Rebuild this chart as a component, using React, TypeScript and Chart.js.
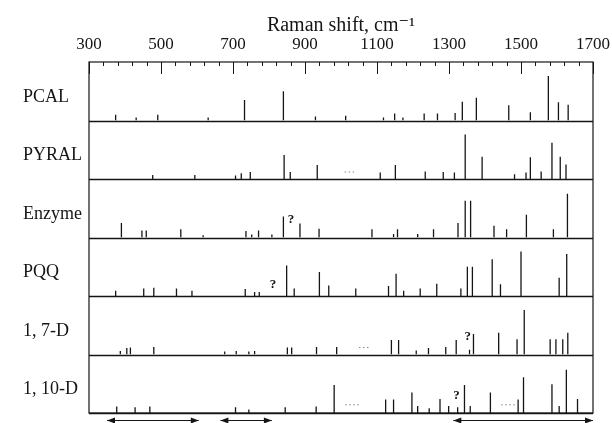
import React, { useEffect, useRef } from "react";
import { Chart, registerables } from "chart.js";

Chart.register(...registerables);

const SERIF = "'Liberation Serif', 'DejaVu Serif', serif";
const INK = "#151515";

// Panel names, top to bottom
const PANELS = ["PCAL", "PYRAL", "Enzyme", "PQQ", "1, 7-D", "1, 10-D"];

// [Raman shift cm-1, relative intensity 0..100 of panel height]
const PCAL_PEAKS: [number, number][] = [
  [374, 10], [431, 5], [491, 10], [631, 5], [732, 35], [840, 50], [929, 7], [1013, 8],
  [1118, 5], [1149, 12], [1172, 5], [1231, 12], [1268, 12], [1317, 13], [1337, 32],
  [1376, 39], [1466, 26], [1526, 14], [1576, 76], [1604, 31], [1631, 27],
];
const PYRAL_PEAKS: [number, number][] = [
  [477, 7], [594, 7], [707, 6], [723, 10], [748, 12], [842, 41], [859, 12], [934, 24],
  [1109, 11], [1151, 24], [1234, 13], [1284, 12], [1315, 11], [1345, 76], [1392, 38],
  [1482, 8], [1514, 11], [1526, 37], [1556, 13], [1586, 62], [1609, 38], [1625, 25],
];
const ENZYME_PEAKS: [number, number][] = [
  [390, 25], [447, 12], [459, 12], [555, 14], [617, 4], [736, 11], [752, 5], [771, 12],
  [808, 5], [840, 36], [886, 24], [939, 15], [1086, 14], [1146, 6], [1157, 14], [1213, 6],
  [1257, 14], [1325, 25], [1345, 63], [1360, 63], [1425, 20], [1460, 14], [1515, 39],
  [1590, 14], [1629, 75],
];
const PQQ_PEAKS: [number, number][] = [
  [374, 9], [452, 13], [480, 14], [543, 13], [586, 9], [734, 12], [760, 7], [773, 7],
  [849, 52], [870, 13], [940, 41], [966, 18], [1041, 13], [1132, 17], [1153, 38], [1174, 9],
  [1220, 13], [1266, 21], [1333, 13], [1351, 50], [1365, 50], [1420, 63], [1443, 20],
  [1500, 76], [1606, 31], [1627, 72],
];
const D17_PEAKS: [number, number][] = [
  [387, 6], [405, 11], [415, 12], [480, 13], [677, 5], [709, 6], [744, 5], [760, 6],
  [851, 12], [863, 12], [932, 13], [988, 13], [1140, 25], [1160, 25], [1209, 7], [1243, 11],
  [1291, 13], [1320, 25], [1357, 8], [1368, 35], [1438, 37], [1489, 26], [1509, 76],
  [1581, 26], [1597, 26], [1616, 26], [1630, 37],
];
const D110_PEAKS: [number, number][] = [
  [377, 11], [428, 10], [469, 11], [707, 10], [744, 6], [845, 10], [931, 11], [981, 48],
  [1124, 23], [1146, 23], [1197, 35], [1213, 12], [1245, 8], [1275, 24], [1299, 12],
  [1324, 10], [1343, 48], [1359, 12], [1415, 35], [1492, 23], [1507, 61], [1586, 49],
  [1606, 12], [1626, 74], [1657, 24],
];
const ALL_PEAKS = [PCAL_PEAKS, PYRAL_PEAKS, ENZYME_PEAKS, PQQ_PEAKS, D17_PEAKS, D110_PEAKS];

// Axis
const X_MIN = 300;
const X_MAX = 1700;
const MAJOR_TICKS = [300, 500, 700, 900, 1100, 1300, 1500, 1700];
const MINOR_TICKS = [
  340, 380, 420, 460, 540, 580, 620, 660, 740, 780, 820, 860, 940, 980, 1020, 1060,
  1140, 1180, 1220, 1260, 1340, 1380, 1420, 1460, 1540, 1580, 1620, 1660,
];
const X_TITLE = "Raman shift, cm\u207B\u00B9";
const LABEL_LEVEL = 40;

// "?" marks: [panel index, shift, level]
const QUESTION_MARKS: [number, number, number][] = [
  [2, 861, 30], [3, 811, 20], [4, 1352, 30], [5, 1321, 30],
];
// dotted fragments: [panel index, from, to, level]
const DOTTED: [number, number, number, number][] = [
  [1, 1010, 1040, 12], [4, 1050, 1080, 12], [5, 1012, 1050, 14], [5, 1445, 1483, 14],
];
// double arrows below the plot: [from, to]
const ARROWS: [number, number][] = [
  [350, 605], [665, 808], [1312, 1700],
];

function sticks(peaks: [number, number][]) {
  const pts: { x: number; y: number | null }[] = [];
  for (const [x, h] of peaks) {
    pts.push({ x, y: 0 }, { x, y: h }, { x, y: null });
  }
  return pts;
}

const decorPlugin = {
  id: "decor",
  beforeDraw(chart: any) {
    const { ctx } = chart;
    ctx.save();
    ctx.fillStyle = "#ffffff";
    ctx.fillRect(0, 0, chart.width, chart.height);
    ctx.restore();
  },
  afterDatasetsDraw(chart: any) {
    const { ctx, chartArea, scales } = chart;
    const xs = scales.x;
    ctx.save();
    ctx.strokeStyle = INK;
    ctx.lineWidth = 1.2;
    ctx.strokeRect(chartArea.left, chartArea.top, chartArea.right - chartArea.left, chartArea.bottom - chartArea.top);
    PANELS.forEach((_, i) => {
      const s = scales["y" + i];
      const yb = Math.round(s.getPixelForValue(0)) + 0.5;
      ctx.beginPath();
      ctx.lineWidth = 1.4;
      ctx.moveTo(chartArea.left, yb);
      ctx.lineTo(chartArea.right, yb);
      ctx.stroke();
    });
    ctx.lineWidth = 1;
    const top = chartArea.top;
    MAJOR_TICKS.forEach((v) => {
      const px = Math.round(xs.getPixelForValue(v)) + 0.5;
      ctx.beginPath();
      ctx.moveTo(px, top);
      ctx.lineTo(px, top + 12);
      ctx.stroke();
    });
    MINOR_TICKS.forEach((v) => {
      const px = Math.round(xs.getPixelForValue(v)) + 0.5;
      ctx.beginPath();
      ctx.moveTo(px, top);
      ctx.lineTo(px, top + 4);
      ctx.stroke();
    });
    ctx.save();
    ctx.strokeStyle = "#888";
    ctx.setLineDash([1.5, 2.5]);
    DOTTED.forEach(([p, a, b, lv]) => {
      const s = scales["y" + p];
      const y = s.getPixelForValue(lv);
      ctx.beginPath();
      ctx.moveTo(xs.getPixelForValue(a), y);
      ctx.lineTo(xs.getPixelForValue(b), y);
      ctx.stroke();
    });
    ctx.restore();
    ctx.fillStyle = INK;
    ctx.font = "bold 13px " + SERIF;
    ctx.textAlign = "center";
    ctx.textBaseline = "middle";
    QUESTION_MARKS.forEach(([p, x, lv]) => {
      const s = scales["y" + p];
      ctx.fillText("?", xs.getPixelForValue(x), s.getPixelForValue(lv));
    });
    const ay = chartArea.bottom + 7.5;
    ctx.lineWidth = 1.2;
    ARROWS.forEach(([a, b]) => {
      const x1 = xs.getPixelForValue(a);
      const x2 = Math.min(xs.getPixelForValue(b), chart.width - 4);
      ctx.beginPath();
      ctx.moveTo(x1, ay);
      ctx.lineTo(x2, ay);
      ctx.stroke();
      ctx.beginPath();
      ctx.moveTo(x1, ay);
      ctx.lineTo(x1 + 8, ay - 3);
      ctx.lineTo(x1 + 8, ay + 3);
      ctx.closePath();
      ctx.fill();
      ctx.beginPath();
      ctx.moveTo(x2, ay);
      ctx.lineTo(x2 - 8, ay - 3);
      ctx.lineTo(x2 - 8, ay + 3);
      ctx.closePath();
      ctx.fill();
    });
    ctx.restore();
  },
};

export default function App() {
  const ref = useRef<HTMLCanvasElement | null>(null);

  useEffect(() => {
    if (!ref.current) return;
    const scales: any = {
      x: {
        type: "linear",
        position: "top",
        min: X_MIN,
        max: X_MAX,
        afterBuildTicks: (axis: any) => {
          axis.ticks = MAJOR_TICKS.map((v) => ({ value: v }));
        },
        ticks: {
          font: { family: SERIF, size: 17 },
          color: INK,
          padding: 7,
          autoSkip: false,
          maxRotation: 0,
          callback: (v: any) => String(v),
        },
        grid: { display: false, drawTicks: false },
        border: { display: false },
        title: {
          display: true,
          text: X_TITLE,
          font: { family: SERIF, size: 20 },
          color: INK,
          padding: { top: 14, bottom: 0 },
        },
        afterFit: (s: any) => {
          s.height = 62;
          s.paddingLeft = 0;
          s.paddingRight = 0;
        },
      },
    };
    for (let i = PANELS.length - 1; i >= 0; i--) {
      scales["y" + i] = {
        type: "linear",
        position: "left",
        stack: "panels",
        stackWeight: 1,
        min: 0,
        max: 100,
        afterBuildTicks: (axis: any) => {
          axis.ticks = [{ value: LABEL_LEVEL }];
        },
        ticks: {
          font: { family: SERIF, size: 18 },
          color: INK,
          padding: 0,
          crossAlign: "far",
          autoSkip: false,
          callback: () => PANELS[i],
        },
        grid: { display: false, drawTicks: false },
        border: { display: false },
        afterFit: (s: any) => {
          s.width = 66;
          s.paddingTop = 0;
          s.paddingBottom = 0;
        },
      };
    }

    const chart = new Chart(ref.current, {
      type: "line",
      data: {
        datasets: ALL_PEAKS.map((peaks, i) => ({
          label: PANELS[i],
          data: sticks(peaks),
          xAxisID: "x",
          yAxisID: "y" + i,
          borderColor: INK,
          borderWidth: 1.3,
          pointRadius: 0,
          spanGaps: false,
          tension: 0,
        })),
      },
      options: {
        responsive: false,
        animation: false,
        layout: { padding: { left: 23, right: 19, top: 0, bottom: 10 } },
        plugins: {
          legend: { display: false },
          tooltip: { enabled: false },
          title: { display: false },
        },
        scales,
      },
      plugins: [decorPlugin],
    } as any);
    return () => chart.destroy();
  }, []);

  return (
    <div style={{ position: "absolute", left: 0, top: 0, width: 612, height: 423 }}>
      <canvas ref={ref} width={612} height={423} style={{ display: "block" }} />
    </div>
  );
}
